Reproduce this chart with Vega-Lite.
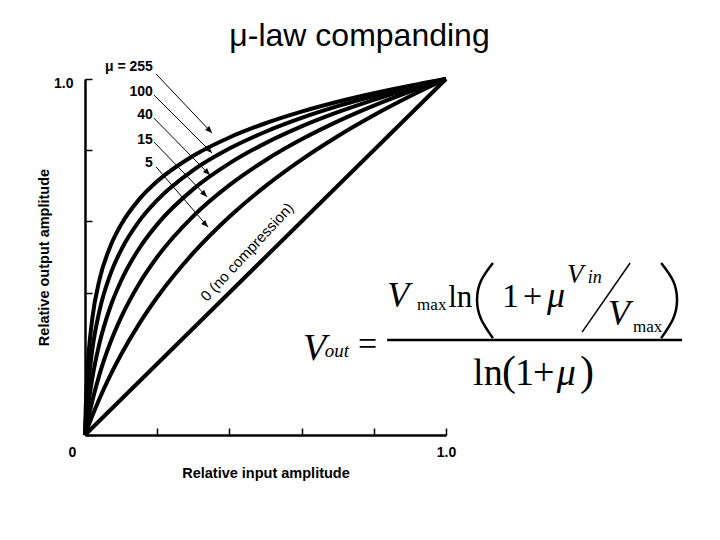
{
  "$schema": "https://vega.github.io/schema/vega-lite/v6.json",
  "autosize": {"type": "none"},
  "padding": {"left": 85, "top": 79, "right": 274, "bottom": 105},
  "width": 361,
  "height": 356,
  "background": "white",
  "title": {"text": "μ-law companding", "font": "Liberation Sans", "fontSize": 32, "fontWeight": "normal", "color": "black", "anchor": "middle", "frame": "group", "dx": 94, "offset": 7},
  "config": {
    "view": {"stroke": null},
    "axis": {"grid": false, "domainColor": "black", "domainWidth": 2.5, "tickColor": "black", "tickWidth": 1.5, "labelColor": "black", "labelFont": "Liberation Sans", "labelFontWeight": "bold", "labelFontSize": 14, "titleColor": "black", "titleFont": "Liberation Sans", "titleFontWeight": "bold", "titleFontSize": 14.5, "labelFlush": false, "labelOverlap": false}
  },
  "datasets": {
    "curves": [
      {"mu": "255", "x": 0, "y": 0}, {"mu": "255", "x": 0.002, "y": 0.0743}, {"mu": "255", "x": 0.005, "y": 0.1482}, {"mu": "255", "x": 0.01, "y": 0.2285}, {"mu": "255", "x": 0.02, "y": 0.3261}, {"mu": "255", "x": 0.04, "y": 0.4357}, {"mu": "255", "x": 0.07, "y": 0.5296}, {"mu": "255", "x": 0.1, "y": 0.591}, {"mu": "255", "x": 0.15, "y": 0.6618}, {"mu": "255", "x": 0.2, "y": 0.7125}, {"mu": "255", "x": 0.3, "y": 0.7845}, {"mu": "255", "x": 0.4, "y": 0.8358}, {"mu": "255", "x": 0.5, "y": 0.8757}, {"mu": "255", "x": 0.6, "y": 0.9083}, {"mu": "255", "x": 0.7, "y": 0.936}, {"mu": "255", "x": 0.8, "y": 0.9599}, {"mu": "255", "x": 0.9, "y": 0.9811}, {"mu": "255", "x": 1, "y": 1},
      {"mu": "100", "x": 0, "y": 0}, {"mu": "100", "x": 0.002, "y": 0.0395}, {"mu": "100", "x": 0.005, "y": 0.0879}, {"mu": "100", "x": 0.01, "y": 0.1502}, {"mu": "100", "x": 0.02, "y": 0.238}, {"mu": "100", "x": 0.04, "y": 0.3487}, {"mu": "100", "x": 0.07, "y": 0.4506}, {"mu": "100", "x": 0.1, "y": 0.5196}, {"mu": "100", "x": 0.15, "y": 0.6008}, {"mu": "100", "x": 0.2, "y": 0.6597}, {"mu": "100", "x": 0.3, "y": 0.7441}, {"mu": "100", "x": 0.4, "y": 0.8047}, {"mu": "100", "x": 0.5, "y": 0.8519}, {"mu": "100", "x": 0.6, "y": 0.8907}, {"mu": "100", "x": 0.7, "y": 0.9236}, {"mu": "100", "x": 0.8, "y": 0.9522}, {"mu": "100", "x": 0.9, "y": 0.9774}, {"mu": "100", "x": 1, "y": 1},
      {"mu": "40", "x": 0, "y": 0}, {"mu": "40", "x": 0.002, "y": 0.0207}, {"mu": "40", "x": 0.005, "y": 0.0491}, {"mu": "40", "x": 0.01, "y": 0.0906}, {"mu": "40", "x": 0.02, "y": 0.1583}, {"mu": "40", "x": 0.04, "y": 0.2573}, {"mu": "40", "x": 0.07, "y": 0.3595}, {"mu": "40", "x": 0.1, "y": 0.4334}, {"mu": "40", "x": 0.15, "y": 0.524}, {"mu": "40", "x": 0.2, "y": 0.5917}, {"mu": "40", "x": 0.3, "y": 0.6907}, {"mu": "40", "x": 0.4, "y": 0.7629}, {"mu": "40", "x": 0.5, "y": 0.8198}, {"mu": "40", "x": 0.6, "y": 0.8668}, {"mu": "40", "x": 0.7, "y": 0.9067}, {"mu": "40", "x": 0.8, "y": 0.9415}, {"mu": "40", "x": 0.9, "y": 0.9724}, {"mu": "40", "x": 1, "y": 1},
      {"mu": "15", "x": 0, "y": 0}, {"mu": "15", "x": 0.002, "y": 0.0107}, {"mu": "15", "x": 0.005, "y": 0.0261}, {"mu": "15", "x": 0.01, "y": 0.0504}, {"mu": "15", "x": 0.02, "y": 0.0946}, {"mu": "15", "x": 0.04, "y": 0.1695}, {"mu": "15", "x": 0.07, "y": 0.2589}, {"mu": "15", "x": 0.1, "y": 0.3305}, {"mu": "15", "x": 0.15, "y": 0.4251}, {"mu": "15", "x": 0.2, "y": 0.5}, {"mu": "15", "x": 0.3, "y": 0.6148}, {"mu": "15", "x": 0.4, "y": 0.7018}, {"mu": "15", "x": 0.5, "y": 0.7719}, {"mu": "15", "x": 0.6, "y": 0.8305}, {"mu": "15", "x": 0.7, "y": 0.8809}, {"mu": "15", "x": 0.8, "y": 0.9251}, {"mu": "15", "x": 0.9, "y": 0.9645}, {"mu": "15", "x": 1, "y": 1},
      {"mu": "5", "x": 0, "y": 0}, {"mu": "5", "x": 0.002, "y": 0.0056}, {"mu": "5", "x": 0.005, "y": 0.0138}, {"mu": "5", "x": 0.01, "y": 0.0272}, {"mu": "5", "x": 0.02, "y": 0.0532}, {"mu": "5", "x": 0.04, "y": 0.1018}, {"mu": "5", "x": 0.07, "y": 0.1675}, {"mu": "5", "x": 0.1, "y": 0.2263}, {"mu": "5", "x": 0.15, "y": 0.3123}, {"mu": "5", "x": 0.2, "y": 0.3869}, {"mu": "5", "x": 0.3, "y": 0.5114}, {"mu": "5", "x": 0.4, "y": 0.6131}, {"mu": "5", "x": 0.5, "y": 0.6992}, {"mu": "5", "x": 0.6, "y": 0.7737}, {"mu": "5", "x": 0.7, "y": 0.8394}, {"mu": "5", "x": 0.8, "y": 0.8982}, {"mu": "5", "x": 0.9, "y": 0.9514}, {"mu": "5", "x": 1, "y": 1},
      {"mu": "0", "x": 0, "y": 0}, {"mu": "0", "x": 1, "y": 1}
    ],
    "labels": [
      {"label": "μ = 255", "x": 0.188, "y": 1.034},
      {"label": "100", "x": 0.188, "y": 0.963},
      {"label": "40", "x": 0.188, "y": 0.899},
      {"label": "15", "x": 0.188, "y": 0.829},
      {"label": "5", "x": 0.188, "y": 0.764}
    ],
    "arrows": [
      {"mu": "255", "x": 0.197, "y": 1.014, "x2": 0.352, "y2": 0.848},
      {"mu": "100", "x": 0.191, "y": 0.955, "x2": 0.352, "y2": 0.792},
      {"mu": "40", "x": 0.191, "y": 0.89, "x2": 0.346, "y2": 0.73},
      {"mu": "15", "x": 0.191, "y": 0.823, "x2": 0.338, "y2": 0.669},
      {"mu": "5", "x": 0.197, "y": 0.753, "x2": 0.341, "y2": 0.584}
    ],
    "note": [{"label": "0 (no compression)", "x": 0.449, "y": 0.514}],
    "eq": [
      {"part": "it38", "t": "V", "x": 0.604, "y": 0.211},
      {"part": "it19", "t": "out", "x": 0.664, "y": 0.219},
      {"part": "up34", "t": "=", "x": 0.756, "y": 0.225},
      {"part": "it36", "t": "V", "x": 0.837, "y": 0.36},
      {"part": "up16", "t": "max", "x": 0.92, "y": 0.351},
      {"part": "up30", "t": "ln", "x": 1.006, "y": 0.36},
      {"part": "up34", "t": "1", "x": 1.155, "y": 0.36},
      {"part": "up34", "t": "+", "x": 1.213, "y": 0.36},
      {"part": "it36", "t": "μ", "x": 1.28, "y": 0.36},
      {"part": "it27", "t": "V", "x": 1.335, "y": 0.427},
      {"part": "it18", "t": "in", "x": 1.393, "y": 0.427},
      {"part": "it36", "t": "V", "x": 1.449, "y": 0.309},
      {"part": "up16", "t": "max", "x": 1.518, "y": 0.289},
      {"part": "up38", "t": "ln", "x": 1.075, "y": 0.14},
      {"part": "par42", "t": "(", "x": 1.155, "y": 0.14},
      {"part": "up38", "t": "1", "x": 1.191, "y": 0.14},
      {"part": "up38", "t": "+", "x": 1.241, "y": 0.14},
      {"part": "it38", "t": "μ", "x": 1.307, "y": 0.14},
      {"part": "par42", "t": ")", "x": 1.371, "y": 0.14}
    ],
    "parens": [
      {"p": "left", "i": 0, "x": 1.13, "y": 0.483}, {"p": "left", "i": 1, "x": 1.097, "y": 0.433}, {"p": "left", "i": 2, "x": 1.086, "y": 0.379}, {"p": "left", "i": 3, "x": 1.097, "y": 0.326}, {"p": "left", "i": 4, "x": 1.13, "y": 0.272},
      {"p": "right", "i": 0, "x": 1.596, "y": 0.483}, {"p": "right", "i": 1, "x": 1.629, "y": 0.433}, {"p": "right", "i": 2, "x": 1.64, "y": 0.379}, {"p": "right", "i": 3, "x": 1.629, "y": 0.326}, {"p": "right", "i": 4, "x": 1.596, "y": 0.272}
    ],
    "bar": [{"x": 0.837, "x2": 1.654, "y": 0.267}],
    "slash": [{"x": 1.51, "y": 0.483, "x2": 1.377, "y2": 0.289}]
  },
  "layer": [
    {
      "data": {"name": "curves"},
      "mark": {"type": "line", "color": "black", "strokeWidth": 4, "interpolate": "monotone"},
      "encoding": {
        "x": {"field": "x", "type": "quantitative", "scale": {"domain": [0, 1], "nice": false}, "title": "Relative input amplitude",
          "axis": {"values": [0, 0.2, 0.4, 0.6, 0.8, 1], "labelExpr": "datum.value == 0 ? '0' : (datum.value == 1 ? '1.0' : '')", "labelOffset": {"condition": {"test": "datum.value == 0", "value": -13}, "value": 0}, "tickSize": -7, "labelPadding": 17, "titlePadding": 7}},
        "y": {"field": "y", "type": "quantitative", "scale": {"domain": [0, 1], "nice": false}, "title": "Relative output amplitude",
          "axis": {"values": [0, 0.2, 0.4, 0.6, 0.8, 1], "labelExpr": "datum.value == 1 ? '1.0' : ''", "labelOffset": 4, "tickSize": -7, "labelPadding": 19, "titlePadding": 2}},
        "detail": {"field": "mu", "type": "nominal"}
      }
    },
    {
      "data": {"name": "labels"},
      "mark": {"type": "text", "align": "right", "baseline": "middle", "font": "Liberation Sans", "fontWeight": "bold", "fontSize": 14, "color": "black"},
      "encoding": {
        "x": {"field": "x", "type": "quantitative", "scale": {"domain": [0, 1]}, "title": "Relative input amplitude"},
        "y": {"field": "y", "type": "quantitative", "scale": {"domain": [0, 1]}, "title": "Relative output amplitude"},
        "text": {"field": "label"}
      }
    },
    {
      "data": {"name": "arrows"},
      "mark": {"type": "rule", "color": "black", "strokeWidth": 1},
      "encoding": {
        "x": {"field": "x", "type": "quantitative", "scale": {"domain": [0, 1]}, "title": "Relative input amplitude"},
        "y": {"field": "y", "type": "quantitative", "scale": {"domain": [0, 1]}, "title": "Relative output amplitude"},
        "x2": {"field": "x2"},
        "y2": {"field": "y2"}
      }
    },
    {
      "data": {"name": "arrows"},
      "mark": {"type": "point", "shape": "M0,0L-1,-0.4L-1,0.4Z", "filled": true, "color": "black", "opacity": 1, "size": 200, "angle": 46},
      "encoding": {
        "x": {"field": "x2", "type": "quantitative", "scale": {"domain": [0, 1]}, "title": "Relative input amplitude"},
        "y": {"field": "y2", "type": "quantitative", "scale": {"domain": [0, 1]}, "title": "Relative output amplitude"}
      }
    },
    {
      "data": {"name": "note"},
      "mark": {"type": "text", "align": "center", "baseline": "middle", "font": "Liberation Sans", "fontSize": 15, "angle": 313, "color": "black"},
      "encoding": {
        "x": {"field": "x", "type": "quantitative", "scale": {"domain": [0, 1]}, "title": "Relative input amplitude"},
        "y": {"field": "y", "type": "quantitative", "scale": {"domain": [0, 1]}, "title": "Relative output amplitude"},
        "text": {"field": "label"}
      }
    },
    {
      "data": {"name": "bar"},
      "mark": {"type": "rule", "color": "black", "strokeWidth": 2.5},
      "encoding": {
        "x": {"field": "x", "type": "quantitative", "scale": {"domain": [0, 1]}, "title": "Relative input amplitude"},
        "x2": {"field": "x2"},
        "y": {"field": "y", "type": "quantitative", "scale": {"domain": [0, 1]}, "title": "Relative output amplitude"}
      }
    },
    {
      "data": {"name": "slash"},
      "mark": {"type": "rule", "color": "black", "strokeWidth": 1.5},
      "encoding": {
        "x": {"field": "x", "type": "quantitative", "scale": {"domain": [0, 1]}, "title": "Relative input amplitude"},
        "x2": {"field": "x2"},
        "y": {"field": "y", "type": "quantitative", "scale": {"domain": [0, 1]}, "title": "Relative output amplitude"},
        "y2": {"field": "y2"}
      }
    },
    {
      "data": {"name": "parens"},
      "mark": {"type": "line", "color": "black", "strokeWidth": 2.5, "interpolate": "natural"},
      "encoding": {
        "x": {"field": "x", "type": "quantitative", "scale": {"domain": [0, 1]}, "title": "Relative input amplitude"},
        "y": {"field": "y", "type": "quantitative", "scale": {"domain": [0, 1]}, "title": "Relative output amplitude"},
        "detail": {"field": "p"},
        "order": {"field": "i"}
      }
    },
    {
      "data": {"name": "eq"},
      "transform": [{"filter": "datum.part == 'it38'"}],
      "mark": {"type": "text", "align": "left", "baseline": "alphabetic", "font": "Liberation Serif", "fontStyle": "italic", "fontSize": 38, "color": "black"},
      "encoding": {"x": {"field": "x", "type": "quantitative", "scale": {"domain": [0, 1]}, "title": "Relative input amplitude"}, "y": {"field": "y", "type": "quantitative", "scale": {"domain": [0, 1]}, "title": "Relative output amplitude"}, "text": {"field": "t"}}
    },
    {
      "data": {"name": "eq"},
      "transform": [{"filter": "datum.part == 'it19'"}],
      "mark": {"type": "text", "align": "left", "baseline": "alphabetic", "font": "Liberation Serif", "fontStyle": "italic", "fontSize": 19, "color": "black"},
      "encoding": {"x": {"field": "x", "type": "quantitative", "scale": {"domain": [0, 1]}, "title": "Relative input amplitude"}, "y": {"field": "y", "type": "quantitative", "scale": {"domain": [0, 1]}, "title": "Relative output amplitude"}, "text": {"field": "t"}}
    },
    {
      "data": {"name": "eq"},
      "transform": [{"filter": "datum.part == 'up34'"}],
      "mark": {"type": "text", "align": "left", "baseline": "alphabetic", "font": "Liberation Serif", "fontSize": 34, "color": "black"},
      "encoding": {"x": {"field": "x", "type": "quantitative", "scale": {"domain": [0, 1]}, "title": "Relative input amplitude"}, "y": {"field": "y", "type": "quantitative", "scale": {"domain": [0, 1]}, "title": "Relative output amplitude"}, "text": {"field": "t"}}
    },
    {
      "data": {"name": "eq"},
      "transform": [{"filter": "datum.part == 'up30'"}],
      "mark": {"type": "text", "align": "left", "baseline": "alphabetic", "font": "Liberation Serif", "fontSize": 31, "color": "black"},
      "encoding": {"x": {"field": "x", "type": "quantitative", "scale": {"domain": [0, 1]}, "title": "Relative input amplitude"}, "y": {"field": "y", "type": "quantitative", "scale": {"domain": [0, 1]}, "title": "Relative output amplitude"}, "text": {"field": "t"}}
    },
    {
      "data": {"name": "eq"},
      "transform": [{"filter": "datum.part == 'it36'"}],
      "mark": {"type": "text", "align": "left", "baseline": "alphabetic", "font": "Liberation Serif", "fontStyle": "italic", "fontSize": 36, "color": "black"},
      "encoding": {"x": {"field": "x", "type": "quantitative", "scale": {"domain": [0, 1]}, "title": "Relative input amplitude"}, "y": {"field": "y", "type": "quantitative", "scale": {"domain": [0, 1]}, "title": "Relative output amplitude"}, "text": {"field": "t"}}
    },
    {
      "data": {"name": "eq"},
      "transform": [{"filter": "datum.part == 'up16'"}],
      "mark": {"type": "text", "align": "left", "baseline": "alphabetic", "font": "Liberation Serif", "fontSize": 17, "color": "black"},
      "encoding": {"x": {"field": "x", "type": "quantitative", "scale": {"domain": [0, 1]}, "title": "Relative input amplitude"}, "y": {"field": "y", "type": "quantitative", "scale": {"domain": [0, 1]}, "title": "Relative output amplitude"}, "text": {"field": "t"}}
    },
    {
      "data": {"name": "eq"},
      "transform": [{"filter": "datum.part == 'it27'"}],
      "mark": {"type": "text", "align": "left", "baseline": "alphabetic", "font": "Liberation Serif", "fontStyle": "italic", "fontSize": 27, "color": "black"},
      "encoding": {"x": {"field": "x", "type": "quantitative", "scale": {"domain": [0, 1]}, "title": "Relative input amplitude"}, "y": {"field": "y", "type": "quantitative", "scale": {"domain": [0, 1]}, "title": "Relative output amplitude"}, "text": {"field": "t"}}
    },
    {
      "data": {"name": "eq"},
      "transform": [{"filter": "datum.part == 'it18'"}],
      "mark": {"type": "text", "align": "left", "baseline": "alphabetic", "font": "Liberation Serif", "fontStyle": "italic", "fontSize": 18, "color": "black"},
      "encoding": {"x": {"field": "x", "type": "quantitative", "scale": {"domain": [0, 1]}, "title": "Relative input amplitude"}, "y": {"field": "y", "type": "quantitative", "scale": {"domain": [0, 1]}, "title": "Relative output amplitude"}, "text": {"field": "t"}}
    },
    {
      "data": {"name": "eq"},
      "transform": [{"filter": "datum.part == 'up38'"}],
      "mark": {"type": "text", "align": "left", "baseline": "alphabetic", "font": "Liberation Serif", "fontSize": 38, "color": "black"},
      "encoding": {"x": {"field": "x", "type": "quantitative", "scale": {"domain": [0, 1]}, "title": "Relative input amplitude"}, "y": {"field": "y", "type": "quantitative", "scale": {"domain": [0, 1]}, "title": "Relative output amplitude"}, "text": {"field": "t"}}
    },
    {
      "data": {"name": "eq"},
      "transform": [{"filter": "datum.part == 'par42'"}],
      "mark": {"type": "text", "align": "left", "baseline": "alphabetic", "font": "Liberation Serif", "fontSize": 42, "color": "black"},
      "encoding": {"x": {"field": "x", "type": "quantitative", "scale": {"domain": [0, 1]}, "title": "Relative input amplitude"}, "y": {"field": "y", "type": "quantitative", "scale": {"domain": [0, 1]}, "title": "Relative output amplitude"}, "text": {"field": "t"}}
    }
  ]
}
